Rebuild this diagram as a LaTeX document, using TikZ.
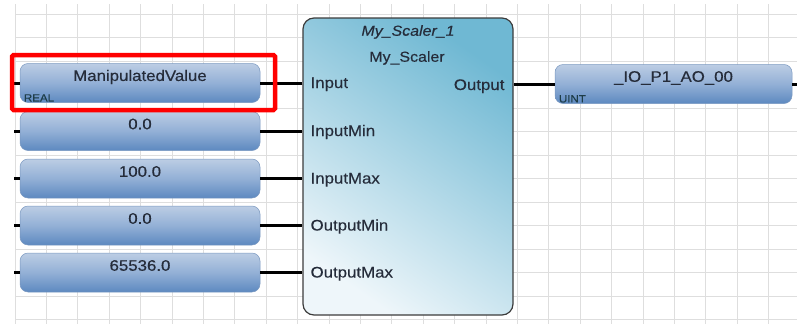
\documentclass[tikz,border=0pt]{standalone}
\usepackage{fontspec}
\setmainfont{Liberation Sans}
\newfontfamily\lblfont[FakeStretch=1.1,FakeBold=0.35]{Liberation Sans}
\usetikzlibrary{calc}
\definecolor{gridc}{HTML}{DEDEDE}
\definecolor{txtc}{HTML}{252C3A}
\definecolor{boxtop}{HTML}{BCCDE4}
\definecolor{boxmid}{HTML}{93B0D6}
\definecolor{boxbot}{HTML}{5D89C0}
\definecolor{boxline}{HTML}{7A98C0}
\definecolor{blktop}{HTML}{6FB8D3}
\definecolor{blkbot}{HTML}{EEF6FA}
\definecolor{blkline}{HTML}{3C3C3C}
\definecolor{hlred}{HTML}{FF0000}
\tikzset{
  varbox/.style={rectangle, rounded corners=8pt, minimum width=240pt, minimum height=39pt,
    top color=boxtop, bottom color=boxbot, middle color=boxmid, draw=boxline, line width=0.5pt, inner sep=0pt},
  vartext/.style={font=\lblfont\fontsize{15.3}{17}\selectfont, text=txtc, inner sep=0pt},
  typetext/.style={font=\lblfont\fontsize{10.5}{12}\selectfont, text=txtc!80!teal, inner sep=0pt, anchor=south west},
  pintext/.style={font=\lblfont\fontsize{15.3}{17}\selectfont, text=txtc, inner sep=0pt},
  wire/.style={line width=3pt, black},
  fblock/.style={rectangle, rounded corners=11pt, minimum width=210pt, minimum height=297pt,
    top color=blktop, bottom color=blkbot, shading angle=-35, draw=blkline, line width=1.2pt, inner sep=0pt},
  hlbox/.style={rectangle, draw=hlred, line width=4.5pt, rounded corners=1.5pt, minimum width=263pt, minimum height=55pt, inner sep=0pt}
}
\begin{document}
\begin{tikzpicture}[x=1pt,y=-1pt]
\useasboundingbox (0,0) rectangle (797,324);
% grid
\begin{scope}
\clip (0,0) rectangle (797,324);
\foreach \k in {0,...,25} { \draw[gridc, line width=1pt] ({15+31.4*\k},4) -- ({15+31.4*\k},324); }
\foreach \k in {0,...,13} { \draw[gridc, line width=1pt] (15,{14+23.5*\k}) -- (797,{14+23.5*\k}); }
\end{scope}
% function block
\node[fblock] (blk) at (408,166.5) {};
\node[font=\lblfont\itshape\fontsize{14.5}{16}\selectfont, text=txtc] (inst) at (408,32) {My\_Scaler\_1};
\node[font=\lblfont\fontsize{14.5}{16}\selectfont, text=txtc] (ftype) at (407,58) {My\_Scaler};
% variable boxes
\node[varbox] (mv) at (140,83) {};
\node[varbox] (imin) at (140,131) {};
\node[varbox] (imax) at (140,178.5) {};
\node[varbox] (omin) at (140,225.5) {};
\node[varbox] (omax) at (140,272.5) {};
\node[varbox, minimum width=237pt] (out) at (673.5,84) {};
% texts in boxes
\node[vartext] (mvt) at ($(mv.center)+(0,-6)$) {ManipulatedValue};
\node[typetext] (mvty) at ($(mv.south west)+(4,-1)$) {REAL};
\node[vartext] (imint) at ($(imin.center)+(0,-7)$) {0.0};
\node[vartext] (imaxt) at ($(imax.center)+(0,-7)$) {100.0};
\node[vartext] (omint) at ($(omin.center)+(0,-7)$) {0.0};
\node[vartext] (omaxt) at ($(omax.center)+(0,-7)$) {65536.0};
\node[vartext] (outt) at ($(out.center)+(0,-6)$) {\_IO\_P1\_AO\_00};
\node[typetext] (outty) at ($(out.south west)+(4,-1)$) {UINT};
% wires
\foreach \b in {mv,imin,imax,omin,omax} {
  \draw[wire] (\b.east) -- (\b.east -| blk.west);
  \draw[wire] (\b.west) -- ++(-6,0);
}
\draw[wire] (blk.east |- out.west) -- (out.west);
\draw[wire] (out.east) -- ++(6,0);
% pin labels
\node[pintext, anchor=base west] (pin1) at ($(blk.west |- mv.east)+(8,5)$) {Input};
\node[pintext, anchor=base west] (pin2) at ($(blk.west |- imin.east)+(8,5)$) {InputMin};
\node[pintext, anchor=base west] (pin3) at ($(blk.west |- imax.east)+(8,5)$) {InputMax};
\node[pintext, anchor=base west] (pin4) at ($(blk.west |- omin.east)+(8,5)$) {OutputMin};
\node[pintext, anchor=base west] (pin5) at ($(blk.west |- omax.east)+(8,5)$) {OutputMax};
\node[pintext, anchor=base east] (pout) at ($(blk.east |- out.west)+(-9,6)$) {Output};
% highlight
\node[hlbox] (hl) at (143.5,82.5) {};
\end{tikzpicture}
\end{document}
